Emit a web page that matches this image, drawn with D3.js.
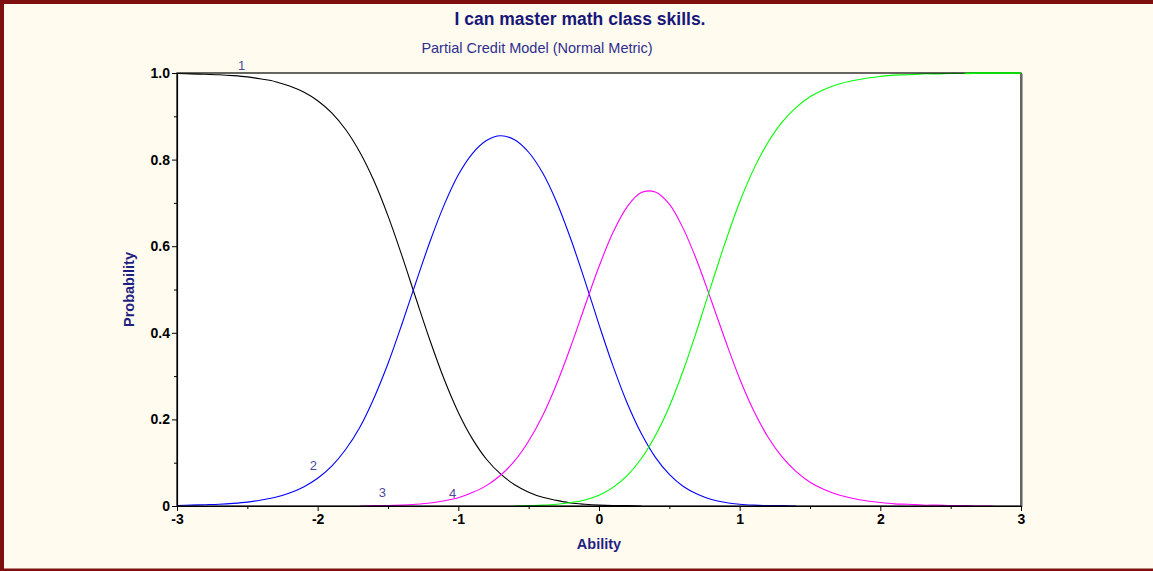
<!DOCTYPE html>
<html>
<head>
<meta charset="utf-8">
<script src="https://cdn.jsdelivr.net/npm/d3@7"></script>
<style>
  html, body { margin: 0; padding: 0; background: #fffbef; }
  svg { display: block; }
  text { font-family: "Liberation Sans", Arial, sans-serif; }
</style>
</head>
<body>
<svg id="chart" width="1153" height="571"></svg>
<script>
// Category response curves, Partial Credit Model (normal metric)
const ability = [
  -3.0, -2.9, -2.8, -2.7, -2.6, -2.5, -2.4, -2.3, -2.2, -2.1,
  -2.0, -1.9, -1.8, -1.7, -1.6, -1.5, -1.4, -1.3, -1.2, -1.1,
  -1.0, -0.9, -0.8, -0.7, -0.6, -0.5, -0.4, -0.3, -0.2, -0.1,
   0.0,  0.1,  0.2,  0.3,  0.4,  0.5,  0.6,  0.7,  0.8,  0.9,
   1.0,  1.1,  1.2,  1.3,  1.4,  1.5,  1.6,  1.7,  1.8,  1.9,
   2.0,  2.1,  2.2,  2.3,  2.4,  2.5,  2.6,  2.7,  2.8,  2.9,
   3.0
];

// probability per category (null = not drawn)
const cat1 = [
  0.999, 0.998, 0.997, 0.996, 0.994, 0.991, 0.986, 0.980, 0.970, 0.956,
  0.936, 0.908, 0.869, 0.817, 0.751, 0.670, 0.577, 0.478, 0.381, 0.292,
  0.216, 0.155, 0.108, 0.074, 0.049, 0.032, 0.020, 0.013, 0.007, 0.004,
  0.002, 0.001, 0.001, 0.000, null, null, null, null, null, null,
  null, null, null, null, null, null, null, null, null, null,
  null, null, null, null, null, null, null, null, null, null,
  null
];
const cat2 = [
  0.001, 0.002, 0.003, 0.004, 0.006, 0.009, 0.014, 0.020, 0.030, 0.044,
  0.064, 0.092, 0.131, 0.182, 0.249, 0.329, 0.421, 0.518, 0.612, 0.696,
  0.765, 0.814, 0.844, 0.855, 0.846, 0.817, 0.769, 0.701, 0.616, 0.520,
  0.419, 0.323, 0.238, 0.168, 0.113, 0.073, 0.045, 0.027, 0.015, 0.008,
  0.004, 0.002, 0.001, 0.001, 0.000, null, null, null, null, null,
  null, null, null, null, null, null, null, null, null, null,
  null
];
const cat3 = [
  null, null, null, null, null, null, null, null, null, null,
  null, null, null, 0.000, 0.001, 0.001, 0.002, 0.004, 0.007, 0.012,
  0.019, 0.031, 0.047, 0.071, 0.104, 0.150, 0.209, 0.283, 0.369, 0.462,
  0.553, 0.632, 0.691, 0.724, 0.725, 0.697, 0.640, 0.563, 0.473, 0.381,
  0.294, 0.220, 0.160, 0.114, 0.080, 0.055, 0.038, 0.026, 0.018, 0.012,
  0.008, 0.005, 0.004, 0.002, 0.002, 0.001, 0.001, 0.000, 0.000, null,
  null
];
const cat4 = [
  null, null, null, null, null, null, null, null, null, null,
  null, null, null, null, null, null, null, null, null, null,
  null, null, null, null, 0.000, 0.001, 0.002, 0.004, 0.008, 0.014,
  0.025, 0.043, 0.070, 0.109, 0.162, 0.230, 0.314, 0.410, 0.512, 0.611,
  0.702, 0.778, 0.839, 0.886, 0.920, 0.945, 0.962, 0.974, 0.982, 0.988,
  0.992, 0.995, 0.996, 0.998, 0.998, 0.999, 0.999, 1.000, 1.000, 1.000,
  1.000
];

const seriesNames = ["1", "2", "3", "4"];
const seriesColors = ["#000000", "#0000ff", "#ff00ff", "#00ff00"];
const labelAbility = [-2.54, -2.03, -1.54, -1.04];
const labelProb = [1.007, 0.083, 0.021, 0.018];

const xTicks = [-3, -2, -1, 0, 1, 2, 3];
const xTickLabels = ["-3", "-2", "-1", "0", "1", "2", "3"];
const xMinor = [-2.5, -1.5, -0.5, 0.5, 1.5, 2.5];
const yTicks = [0, 0.2, 0.4, 0.6, 0.8, 1.0];
const yTickLabels = ["0", "0.2", "0.4", "0.6", "0.8", "1.0"];
const yMinor = [0.1, 0.3, 0.5, 0.7, 0.9];

const titleText = "I can master math class skills.";
const subtitleText = "Partial Credit Model (Normal Metric)";
const xTitle = "Ability";
const yTitle = "Probability";

const W = 1153, H = 571;
const plot = { left: 177, right: 1021, top: 73, bottom: 506 };

const svg = d3.select("#chart");

// page background and dark red frame
svg.append("rect").attr("width", W).attr("height", H).attr("fill", "#fffbef");
svg.append("rect").attr("x", 0).attr("y", 0).attr("width", W).attr("height", 4).attr("fill", "#7f0f0f");
svg.append("rect").attr("x", 0).attr("y", 0).attr("width", 4).attr("height", H).attr("fill", "#7f0f0f");
svg.append("rect").attr("x", 0).attr("y", H - 2.5).attr("width", W).attr("height", 2.5).attr("fill", "#7f0f0f");

const x = d3.scaleLinear().domain([-3, 3]).range([plot.left, plot.right]);
const y = d3.scaleLinear().domain([0, 1]).range([plot.bottom, plot.top]);

// plot area with a soft shadow on its right edge
svg.append("line")
  .attr("x1", plot.right + 1.5).attr("x2", plot.right + 1.5)
  .attr("y1", plot.top + 1).attr("y2", plot.bottom + 1)
  .attr("stroke", "#a8a8a8").attr("stroke-width", 1);
svg.append("rect")
  .attr("x", plot.left).attr("y", plot.top)
  .attr("width", plot.right - plot.left).attr("height", plot.bottom - plot.top)
  .attr("fill", "#ffffff");

// titles
svg.append("text")
  .attr("x", 580).attr("y", 25)
  .attr("text-anchor", "middle")
  .attr("font-size", 17.5).attr("font-weight", "bold")
  .attr("fill", "#17177a")
  .text(titleText);
svg.append("text")
  .attr("x", 537).attr("y", 53)
  .attr("text-anchor", "middle")
  .attr("font-size", 14.5)
  .attr("fill", "#2e2e8e")
  .text(subtitleText);

// curves
const line = d3.line()
  .defined(d => d[1] !== null)
  .x(d => x(d[0]))
  .y(d => y(d[1]))
  .curve(d3.curveCatmullRom.alpha(0.5));

const cats = [cat1, cat2, cat3, cat4];
const gCurves = svg.append("g");
cats.forEach((vals, i) => {
  const pts = ability.map((a, j) => [a, vals[j]]);
  gCurves.append("path")
    .datum(pts)
    .attr("fill", "none")
    .attr("stroke", seriesColors[i])
    .attr("stroke-width", 1.1)
    .attr("d", line);
});

// frame of the plot
svg.append("rect")
  .attr("x", plot.left).attr("y", plot.top)
  .attr("width", plot.right - plot.left).attr("height", plot.bottom - plot.top)
  .attr("fill", "none").attr("stroke", "#000").attr("stroke-width", 1.2);

// the top category's tail runs along the upper frame; keep it visible there
{
  const pts = ability.map((a, j) => [a, (a >= 2.6 ? cat4[j] : null)]);
  svg.append("path").datum(pts)
    .attr("fill", "none").attr("stroke", seriesColors[3]).attr("stroke-width", 1.6)
    .attr("d", line);
}

// axes
svg.append("g")
  .attr("transform", `translate(0,${plot.bottom})`)
  .call(d3.axisBottom(x).tickValues(xTicks).tickSize(5).tickSizeOuter(0).tickPadding(3)
    .tickFormat((d, i) => xTickLabels[i]));
svg.append("g")
  .attr("transform", `translate(0,${plot.bottom})`)
  .call(d3.axisBottom(x).tickValues(xMinor).tickSize(3).tickSizeOuter(0).tickFormat(""))
  .call(g => g.select(".domain").remove());

svg.append("g")
  .attr("transform", `translate(${plot.left},0)`)
  .call(d3.axisLeft(y).tickValues(yTicks).tickSize(5).tickSizeOuter(0).tickPadding(2)
    .tickFormat((d, i) => yTickLabels[i]));
svg.append("g")
  .attr("transform", `translate(${plot.left},0)`)
  .call(d3.axisLeft(y).tickValues(yMinor).tickSize(3).tickSizeOuter(0).tickFormat(""))
  .call(g => g.select(".domain").remove());

svg.selectAll(".tick line").attr("stroke", "#000");
svg.selectAll(".domain").attr("stroke", "#000").attr("stroke-width", 1.2);
svg.selectAll(".tick text")
  .attr("font-family", "'Liberation Sans', Arial, sans-serif")
  .attr("font-size", 14).attr("font-weight", "bold").attr("fill", "#000");

// axis titles
svg.append("text")
  .attr("x", (plot.left + plot.right) / 2).attr("y", 549)
  .attr("text-anchor", "middle")
  .attr("font-size", 14.5).attr("font-weight", "bold")
  .attr("fill", "#1f1f82")
  .text(xTitle);
svg.append("text")
  .attr("transform", `translate(134,${(plot.top + plot.bottom) / 2}) rotate(-90)`)
  .attr("text-anchor", "middle")
  .attr("font-size", 14.5).attr("font-weight", "bold")
  .attr("fill", "#1f1f82")
  .text(yTitle);

// category labels
seriesNames.forEach((name, i) => {
  svg.append("text")
    .attr("x", x(labelAbility[i])).attr("y", y(labelProb[i]))
    .attr("text-anchor", "middle")
    .attr("font-size", 13)
    .attr("fill", "#4b4b9e")
    .text(name);
});
</script>
</body>
</html>
